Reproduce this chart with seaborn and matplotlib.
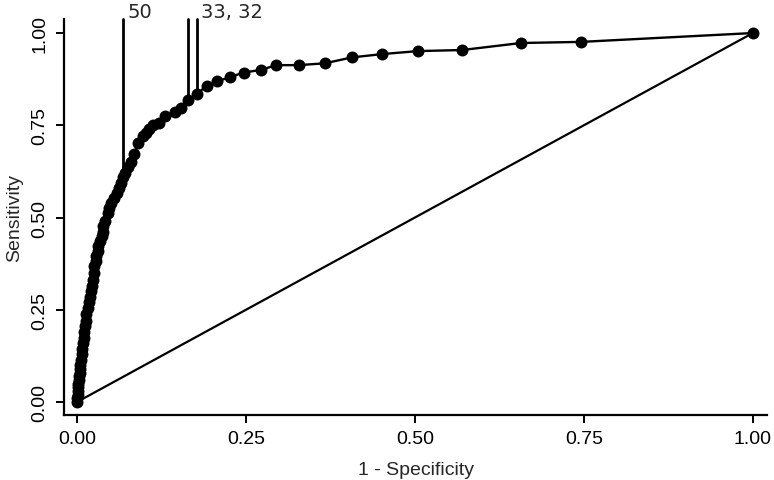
import numpy as np
import pandas as pd
import seaborn as sns
import matplotlib.pyplot as plt

# ROC points (1 - specificity, sensitivity)
fpr = [0.000, 0.000, 0.001, 0.001, 0.002, 0.002, 0.003, 0.003, 0.004, 0.004,
       0.005, 0.006, 0.007, 0.008, 0.009, 0.010, 0.011, 0.012, 0.013, 0.014,
       0.016, 0.018, 0.019, 0.021, 0.022, 0.024, 0.025, 0.026, 0.028, 0.029,
       0.031, 0.032, 0.034, 0.037, 0.038, 0.039, 0.042, 0.046, 0.048, 0.051,
       0.055, 0.059, 0.063, 0.066, 0.068, 0.071, 0.075, 0.080, 0.085, 0.091,
       0.098, 0.102, 0.106, 0.113, 0.121, 0.131, 0.145, 0.154, 0.165, 0.177,
       0.192, 0.208, 0.227, 0.247, 0.272, 0.295, 0.328, 0.367, 0.407, 0.452,
       0.504, 0.570, 0.657, 0.746, 1.000]
tpr = [0.000, 0.010, 0.020, 0.030, 0.040, 0.050, 0.060, 0.070, 0.080, 0.090,
       0.100, 0.115, 0.130, 0.145, 0.160, 0.175, 0.190, 0.205, 0.220, 0.240,
       0.255, 0.270, 0.285, 0.300, 0.315, 0.330, 0.350, 0.368, 0.382, 0.395,
       0.410, 0.422, 0.436, 0.449, 0.462, 0.476, 0.492, 0.513, 0.527, 0.540,
       0.553, 0.567, 0.580, 0.594, 0.610, 0.621, 0.636, 0.650, 0.671, 0.703,
       0.721, 0.730, 0.739, 0.750, 0.757, 0.774, 0.786, 0.798, 0.818, 0.834,
       0.857, 0.869, 0.881, 0.893, 0.900, 0.913, 0.913, 0.918, 0.934, 0.943,
       0.951, 0.954, 0.973, 0.976, 1.000]

# marked cutoffs
cut_labels = ["50", "33", "32"]
cut_x = [0.068, 0.165, 0.177]
cut_y = [0.618, 0.826, 0.840]

ticks = [0.0, 0.25, 0.5, 0.75, 1.0]
tick_labels = ["0.00", "0.25", "0.50", "0.75", "1.00"]

sns.set_style("ticks")
plt.rcParams["font.family"] = ["Liberation Sans", "DejaVu Sans"]

roc = pd.DataFrame({"fpr": fpr, "tpr": tpr})
diag = pd.DataFrame({"fpr": [0.0, 1.0], "tpr": [0.0, 1.0]})

fig = plt.figure(figsize=(7.74, 4.81), dpi=100)
ax = fig.add_axes([0.0827, 0.1351, 0.9083, 0.8233])

sns.lineplot(data=roc, x="fpr", y="tpr", sort=False, estimator=None,
             color="black", linewidth=1.7, marker="o", markersize=8.6,
             markeredgewidth=0, ax=ax, zorder=3)
sns.lineplot(data=diag, x="fpr", y="tpr", sort=False, estimator=None,
             color="black", linewidth=1.6, ax=ax)

ymax = 1.038
for x, y in zip(cut_x, cut_y):
    ax.plot([x, x], [y, ymax], color="black", linewidth=2.0, clip_on=False)

ax.text(cut_x[0] + 0.007, 1.043, cut_labels[0], fontsize=14,
        family="DejaVu Sans", va="baseline", ha="left")
ax.text(cut_x[2] + 0.006, 1.043, f"{cut_labels[1]}, {cut_labels[2]}",
        fontsize=14, family="DejaVu Sans", va="baseline", ha="left")

ax.set_xlim(-0.019, 1.021)
ax.set_ylim(-0.035, ymax)
ax.set_xticks(ticks)
ax.set_xticklabels(tick_labels)
ax.set_yticks(ticks)
ax.set_yticklabels(tick_labels, rotation=90, va="center")
ax.tick_params(labelsize=14, length=6, width=1.4, colors="black", pad=5)
ax.set_xlabel("1 - Specificity", fontsize=14, labelpad=10)
ax.set_ylabel("Sensitivity", fontsize=14, labelpad=6)
sns.despine(ax=ax)
for s in ["left", "bottom"]:
    ax.spines[s].set_linewidth(1.6)
    ax.spines[s].set_color("black")

fig.savefig("out.png", dpi=100)
